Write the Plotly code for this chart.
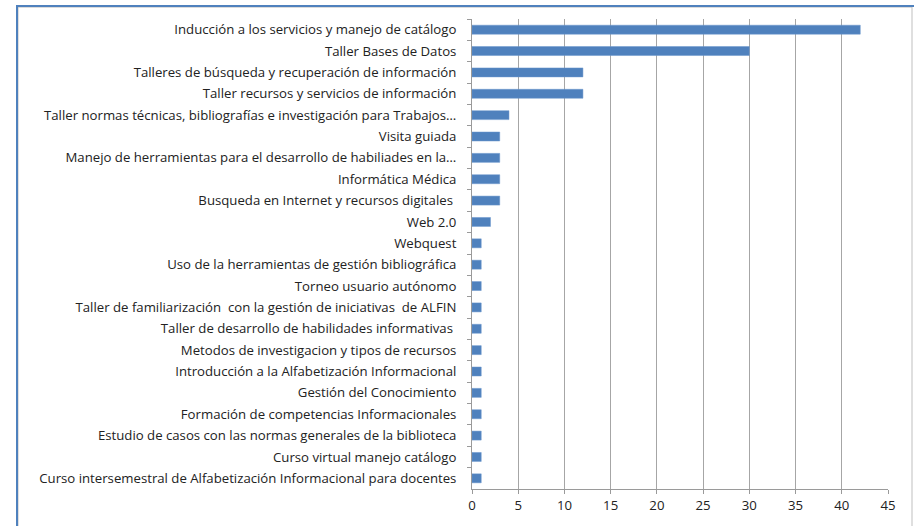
import plotly.graph_objects as go

categories = [
    "Inducción a los servicios y manejo de catálogo",
    "Taller Bases de Datos",
    "Talleres de búsqueda y recuperación de información",
    "Taller recursos y servicios de información",
    "Taller normas técnicas, bibliografías e investigación para Trabajos…",
    "Visita guiada",
    "Manejo de herramientas para el desarrollo de habiliades en la…",
    "Informática Médica",
    "Busqueda en Internet y recursos digitales ",
    "Web 2.0",
    "Webquest",
    "Uso de la herramientas de gestión bibliográfica",
    "Torneo usuario autónomo",
    "Taller de familiarización  con la gestión de iniciativas  de ALFIN",
    "Taller de desarrollo de habilidades informativas ",
    "Metodos de investigacion y tipos de recursos",
    "Introducción a la Alfabetización Informacional",
    "Gestión del Conocimiento",
    "Formación de competencias Informacionales",
    "Estudio de casos con las normas generales de la biblioteca",
    "Curso virtual manejo catálogo",
    "Curso intersemestral de Alfabetización Informacional para docentes",
]
values = [42, 30, 12, 12, 4, 3, 3, 3, 3, 2, 1, 1, 1, 1, 1, 1, 1, 1, 1, 1, 1, 1]
x_ticks = [0, 5, 10, 15, 20, 25, 30, 35, 40, 45]

W, H = 914, 526
ML, MR, MT, MB = 472, 26, 19, 34
pw, ph = W - ML - MR, H - MT - MB

def px_x(p):
    return (p - ML) / pw

def px_y(p):
    return (H - MB - p) / ph

fig = go.Figure(go.Bar(
    x=values, y=categories, orientation="h",
    marker=dict(color="#4F81BD", line=dict(color="#6A96CC", width=0.5)),
    width=0.42,
))

fig.update_layout(
    width=W, height=H,
    margin=dict(l=ML, r=MR, t=MT, b=MB),
    paper_bgcolor="white", plot_bgcolor="white",
    showlegend=False,
    font=dict(family="Open Sans, sans-serif", size=13.2, color="#222222"),
    xaxis=dict(
        range=[0, 45], tickvals=x_ticks, showgrid=True, gridcolor="#A6A6A6", gridwidth=1,
        zeroline=False, showline=True, linecolor="#9A9A9A", linewidth=1,
        ticks="outside", ticklen=4, tickcolor="#9A9A9A", fixedrange=True,
    ),
    yaxis=dict(
        autorange="reversed", showline=True, linecolor="#9A9A9A", linewidth=1,
        ticks="outside", ticklen=4, tickcolor="#9A9A9A", tickson="boundaries",
        ticklabelstandoff=12, showgrid=False,
    ),
    shapes=[
        dict(type="rect", xref="paper", yref="paper",
             x0=px_x(18), x1=px_x(912), y0=px_y(540), y1=px_y(7),
             line=dict(color="#BFBFBF", width=1), layer="below"),
        dict(type="line", xref="paper", yref="paper",
             x0=px_x(17), x1=px_x(17), y0=px_y(540), y1=px_y(6),
             line=dict(color="#4F81BD", width=2)),
        dict(type="line", xref="paper", yref="paper",
             x0=px_x(16), x1=px_x(914), y0=px_y(6), y1=px_y(6),
             line=dict(color="#4F81BD", width=2)),
    ],
)

fig.write_html(
    "out.html",
    config={"displayModeBar": False, "staticPlot": True},
    post_script="document.body.style.margin='0';document.body.style.overflow='hidden';",
)
